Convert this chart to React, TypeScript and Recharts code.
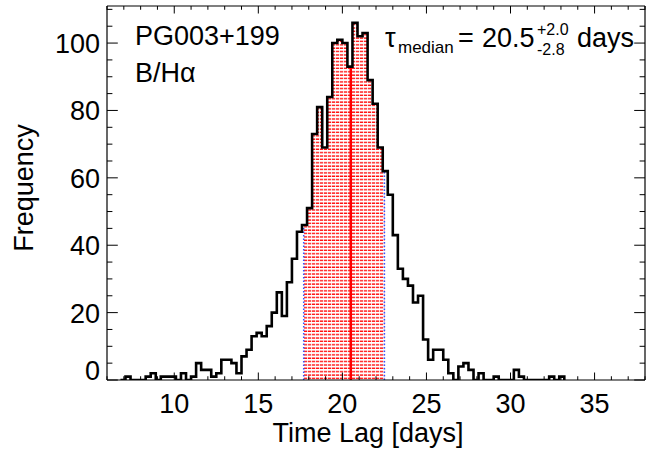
import { ComposedChart, Line, Area, XAxis, YAxis, ReferenceLine } from 'recharts';

// histogram of the lag realisations, bins of 0.3 days starting at 6.8
const binStart = 6.8;
const binWidth = 0.3;
const counts = [
  0, 1, 0, 0, 0, 1, 2, 0, 1, 1, 1, 0, 2, 0, 1, 5, 3, 3, 1, 2,
  6, 6, 5, 2, 7, 9, 13, 14, 13, 16, 20, 26, 19, 29, 36, 44, 46, 51, 73, 81,
  69, 84, 100, 101, 100, 93, 106, 102, 103, 89, 82, 69, 62, 55, 43, 33, 30, 28, 23, 25,
  12, 6, 9, 9, 6, 2, 0, 4, 5, 3, 0, 2, 0, 0, 1, 0, 0, 0, 3, 1,
  0, 0, 0, 0, 0, 1, 0, 1,
];

const tauMedian = 20.5;
const tauErrHigh = 2.0;
const tauErrLow = 2.8;

const xAllTicks = [
  6, 7, 8, 9, 10, 11, 12, 13, 14, 15, 16, 17, 18, 19, 20, 21, 22,
  23, 24, 25, 26, 27, 28, 29, 30, 31, 32, 33, 34, 35, 36, 37, 38,
];
const xMajorTicks = [10, 15, 20, 25, 30, 35];
const yAllTicks = [0, 5, 10, 15, 20, 25, 30, 35, 40, 45, 50, 55, 60, 65, 70, 75, 80, 85, 90, 95, 100, 105, 110];
const yMajorTicks = [0, 20, 40, 60, 80, 100];

const FONT = '"Liberation Sans", Arial, Helvetica, sans-serif';

const r2 = (v: number) => Math.round(v * 100) / 100;
const countAt = (v: number) => {
  const k = Math.floor((v - binStart) / binWidth + 1e-6);
  return k >= 0 && k < counts.length ? counts[k] : 0;
};

const lower = r2(tauMedian - tauErrLow);
const upper = r2(tauMedian + tauErrHigh);

const edges = counts.map((_, k) => r2(binStart + k * binWidth)).concat(r2(binStart + counts.length * binWidth));
const xs = Array.from(new Set([...edges, lower, upper])).sort((a, b) => a - b);

const data = xs.map((x) => ({
  x,
  hist: countAt(x),
  hatch: x >= lower - 1e-9 && x <= upper + 1e-9 ? countAt(x) : null,
}));

const BottomTick = (props: any) => {
  const { x, y, payload } = props;
  const major = xMajorTicks.includes(payload.value);
  return (
    <g>
      <line x1={x} y1={y} x2={x} y2={y - (major ? 7.5 : 3.75)} stroke="#000" strokeWidth={1} />
      {major && (
        <text x={x} y={y + 33} textAnchor="middle" fontSize={27} fontFamily={FONT} fill="#000">
          {payload.value}
        </text>
      )}
    </g>
  );
};

const TopTick = (props: any) => {
  const { x, y, payload } = props;
  const major = xMajorTicks.includes(payload.value);
  return <line x1={x} y1={y} x2={x} y2={y + (major ? 7.5 : 3.75)} stroke="#000" strokeWidth={1} />;
};

const LeftTick = (props: any) => {
  const { x, y, payload } = props;
  const major = yMajorTicks.includes(payload.value);
  return (
    <g>
      <line x1={x} y1={y} x2={x + (major ? 10.8 : 5.4)} y2={y} stroke="#000" strokeWidth={1} />
      {major && (
        <text
          x={x - 7}
          y={payload.value === 0 ? y : y + 10}
          textAnchor="end"
          fontSize={27}
          fontFamily={FONT}
          fill="#000"
        >
          {payload.value}
        </text>
      )}
    </g>
  );
};

const RightTick = (props: any) => {
  const { x, y, payload } = props;
  const major = yMajorTicks.includes(payload.value);
  return <line x1={x} y1={y} x2={x - (major ? 10.8 : 5.4)} y2={y} stroke="#000" strokeWidth={1} />;
};

const axisLine = { stroke: '#000', strokeWidth: 1.2 };

export default function App() {
  return (
    <div style={{ position: 'absolute', left: 0, top: 0, width: 651, height: 452, background: '#fff' }}>
      <ComposedChart
        width={651}
        height={452}
        data={data}
        margin={{ top: 5, right: 5, bottom: 71, left: 106 }}
      >
        <defs>
          <pattern id="hatchRed" patternUnits="userSpaceOnUse" width="4" height="3.37">
            <line x1="0" y1="1" x2="4" y2="1" stroke="#ff0000" strokeWidth="1.3" strokeDasharray="3.2 0.8" />
          </pattern>
        </defs>
        <XAxis
          xAxisId="b"
          dataKey="x"
          type="number"
          domain={[6, 38]}
          allowDataOverflow
          ticks={xAllTicks}
          interval={0}
          height={1}
          tickSize={0}
          tickMargin={0}
          tickLine={false}
          axisLine={axisLine}
          tick={(p: any) => <BottomTick {...p} />}
        />
        <XAxis
          xAxisId="t"
          orientation="top"
          dataKey="x"
          type="number"
          domain={[6, 38]}
          allowDataOverflow
          ticks={xAllTicks}
          interval={0}
          height={1}
          tickSize={0}
          tickMargin={0}
          tickLine={false}
          axisLine={axisLine}
          tick={(p: any) => <TopTick {...p} />}
        />
        <YAxis
          yAxisId="l"
          type="number"
          domain={[0, 111]}
          allowDataOverflow
          ticks={yAllTicks}
          interval={0}
          width={1}
          tickSize={0}
          tickMargin={0}
          tickLine={false}
          axisLine={axisLine}
          tick={(p: any) => <LeftTick {...p} />}
        />
        <YAxis
          yAxisId="r"
          orientation="right"
          type="number"
          domain={[0, 111]}
          allowDataOverflow
          ticks={yAllTicks}
          interval={0}
          width={1}
          tickSize={0}
          tickMargin={0}
          tickLine={false}
          axisLine={axisLine}
          tick={(p: any) => <RightTick {...p} />}
        />
        <Area
          xAxisId="b"
          yAxisId="l"
          type="stepAfter"
          dataKey="hatch"
          stroke="none"
          fill="url(#hatchRed)"
          fillOpacity={1}
          connectNulls={false}
          dot={false}
          activeDot={false}
          isAnimationActive={false}
        />
        <ReferenceLine
          xAxisId="b"
          yAxisId="l"
          segment={[{ x: lower, y: 0 }, { x: lower, y: countAt(lower) }]}
          stroke="#3355ff"
          strokeWidth={1.5}
          strokeDasharray="1.5 2"
        />
        <ReferenceLine
          xAxisId="b"
          yAxisId="l"
          segment={[{ x: upper, y: 0 }, { x: upper, y: countAt(upper) }]}
          stroke="#3355ff"
          strokeWidth={1.5}
          strokeDasharray="1.5 2"
        />
        <ReferenceLine
          xAxisId="b"
          yAxisId="l"
          segment={[{ x: tauMedian, y: 0 }, { x: tauMedian, y: countAt(tauMedian) }]}
          stroke="#ff0000"
          strokeWidth={2.5}
        />
        <Line
          xAxisId="t"
          yAxisId="r"
          dataKey="hist"
          stroke="none"
          dot={false}
          activeDot={false}
          isAnimationActive={false}
        />
        <Line
          xAxisId="b"
          yAxisId="l"
          type="stepAfter"
          dataKey="hist"
          stroke="#000"
          strokeWidth={2.6}
          dot={false}
          activeDot={false}
          isAnimationActive={false}
        />
      </ComposedChart>
      <svg
        width={651}
        height={452}
        style={{ position: 'absolute', left: 0, top: 0, pointerEvents: 'none' }}
        fontFamily={FONT}
        fill="#000"
      >
        <text x={135} y={45} fontSize={27}>PG003+199</text>
        <text x={135} y={82} fontSize={27}>B/Hα</text>
        <text x={385} y={47} fontSize={27}>τ</text>
        <text x={398} y={53} fontSize={17}>median</text>
        <text x={458} y={47} fontSize={27}>=</text>
        <text x={482} y={47} fontSize={27}>20.5</text>
        <text x={537} y={35} fontSize={16}>+2.0</text>
        <text x={537} y={55} fontSize={16}>-2.8</text>
        <text x={577} y={47} fontSize={27}>days</text>
        <text x={368} y={442} fontSize={27} textAnchor="middle">Time Lag [days]</text>
        <text x={0} y={0} fontSize={27} textAnchor="middle" transform="translate(33,188) rotate(-90)">
          Frequency
        </text>
      </svg>
    </div>
  );
}
